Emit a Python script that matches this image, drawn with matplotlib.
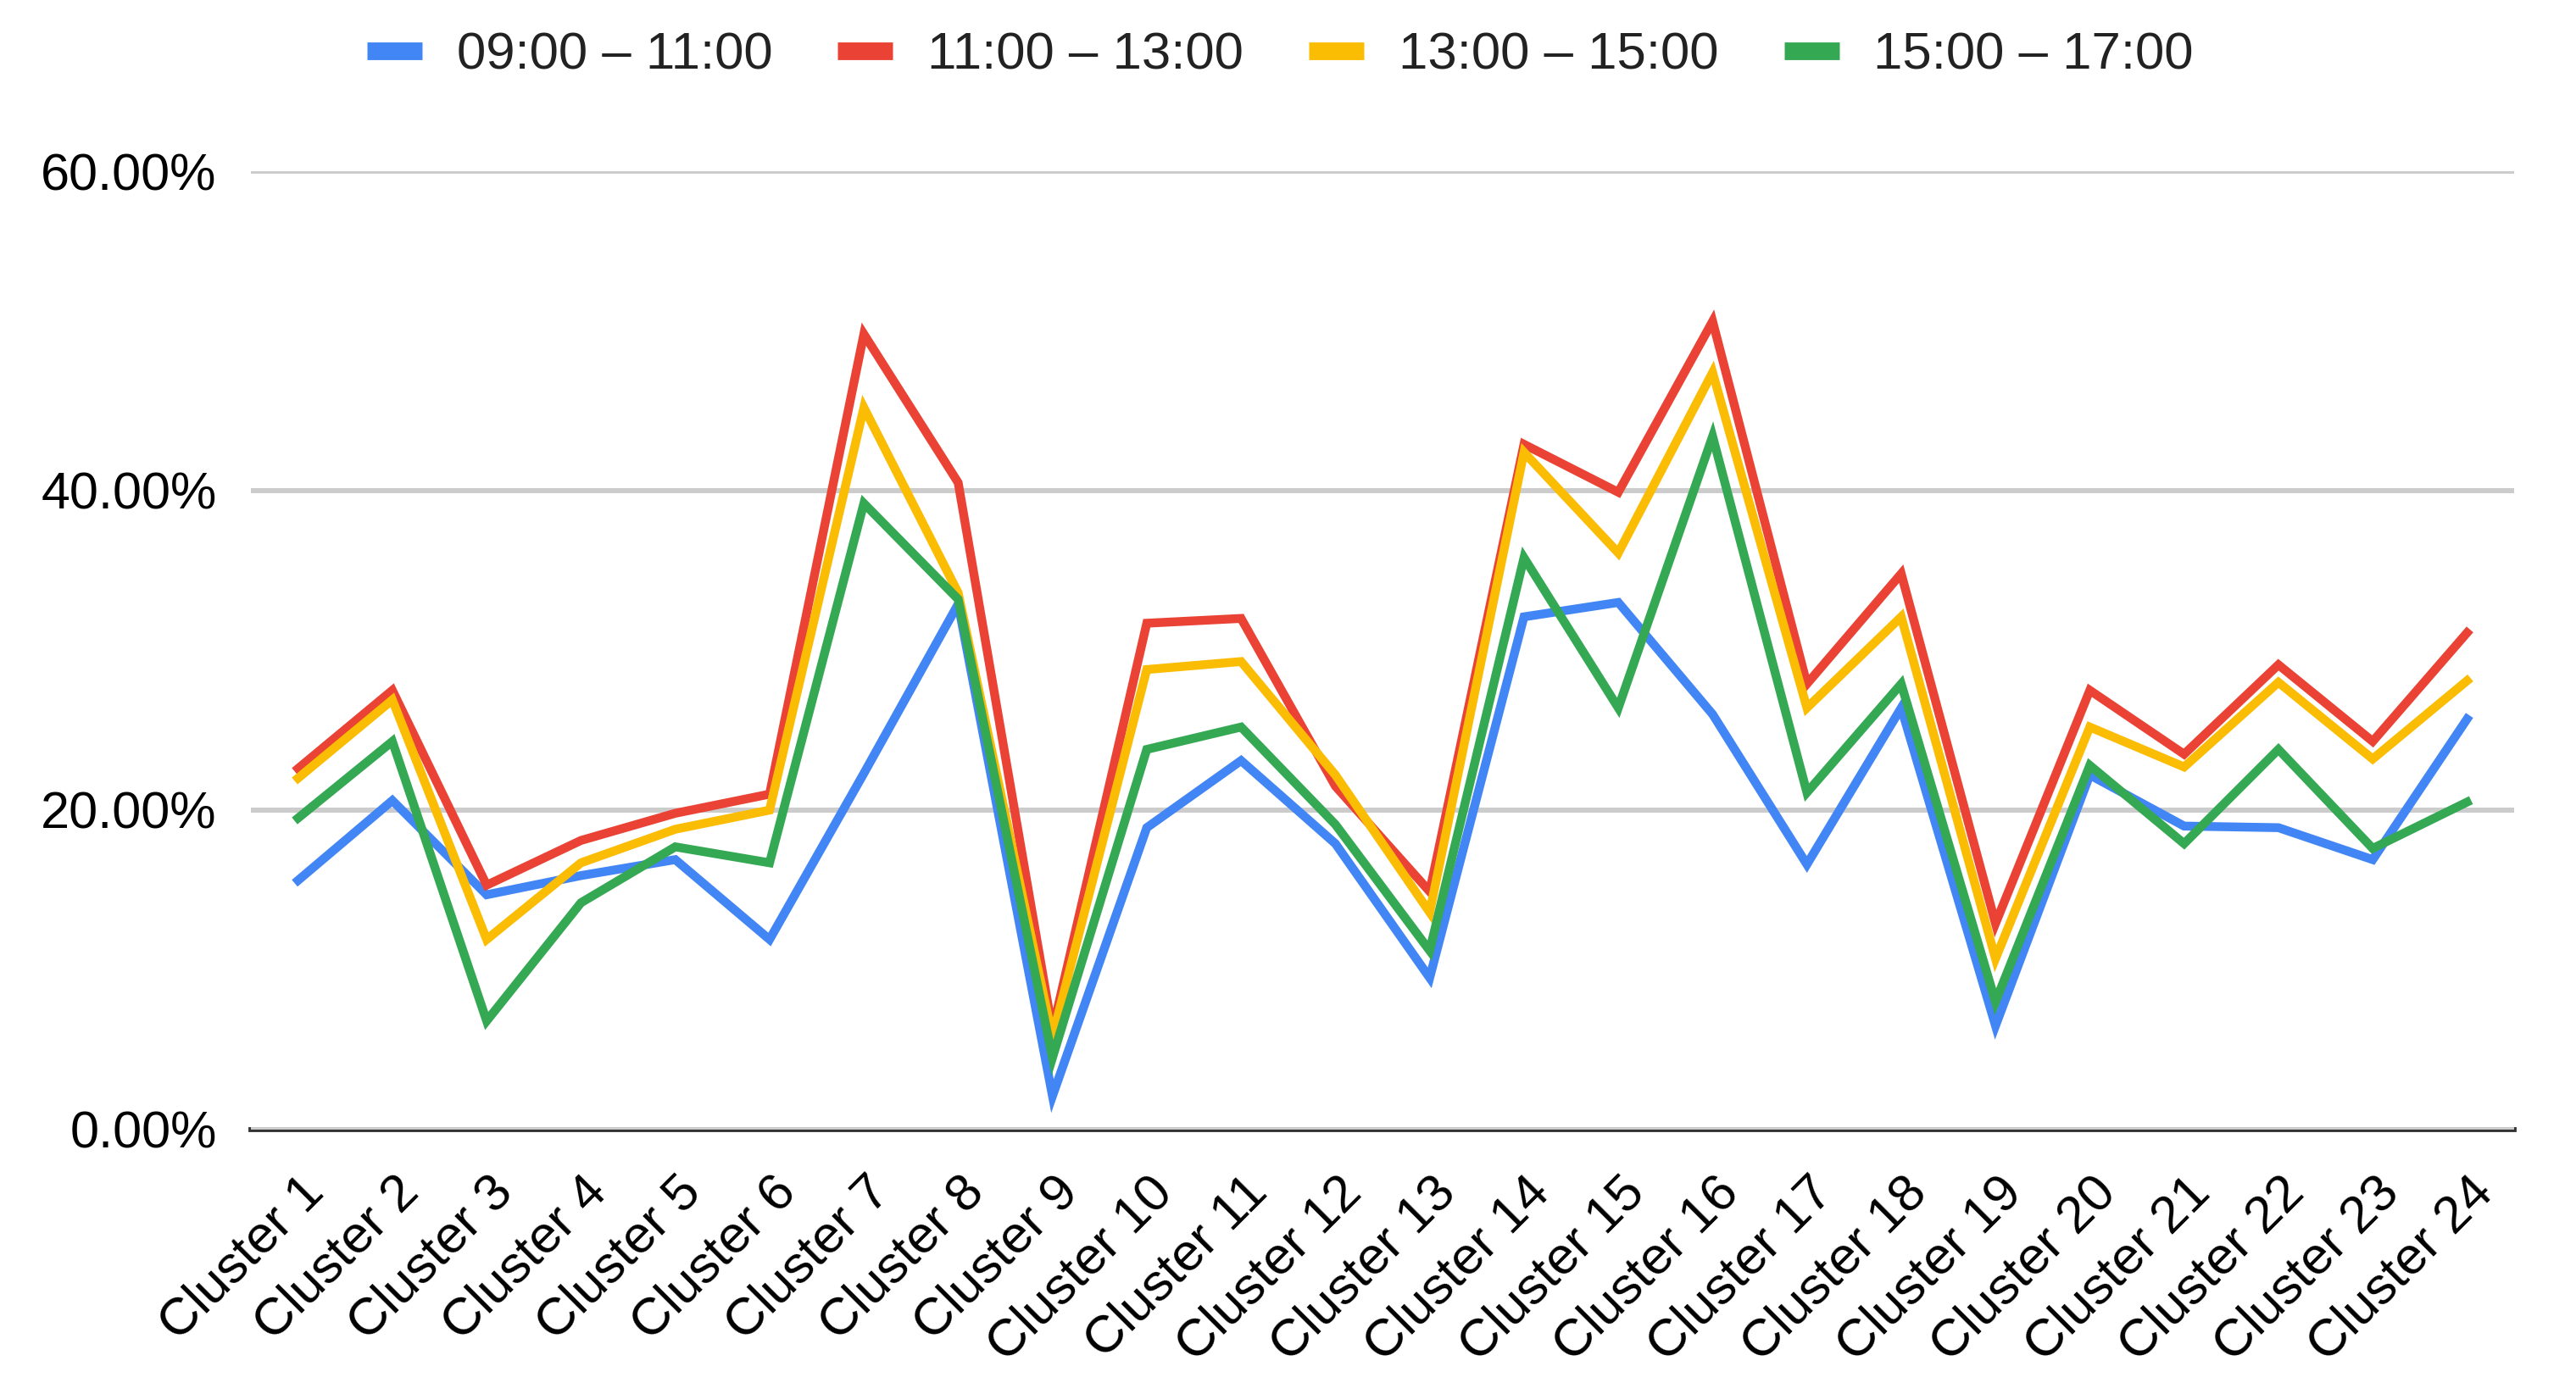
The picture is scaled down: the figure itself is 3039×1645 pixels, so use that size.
import matplotlib
matplotlib.use('Agg')
import matplotlib.pyplot as plt
import matplotlib.transforms as mtransforms
from matplotlib.ticker import FuncFormatter

plt.rcParams['font.family'] = ['Liberation Sans', 'DejaVu Sans']

# Share per cluster for each time slot (%)
clusters = ['Cluster %d' % i for i in range(1, 25)]
series_names = ['09:00 – 11:00', '11:00 – 13:00', '13:00 – 15:00', '15:00 – 17:00']
colors = ['#4285F4', '#EA4335', '#FBBC04', '#34A853']

slot_0911 = [15.6, 20.6, 14.7, 15.9, 16.9, 11.9, 22.3, 32.9, 2.1, 18.9, 23.1, 17.9,
             9.5, 32.1, 33.0, 26.0, 16.6, 26.4, 6.5, 22.2, 19.0, 18.9, 16.9, 25.7]
slot_1113 = [22.6, 27.5, 15.3, 18.1, 19.8, 21.0, 49.8, 40.5, 6.2, 31.7, 32.0, 21.5,
             14.9, 42.9, 39.9, 50.6, 27.9, 34.8, 12.9, 27.5, 23.5, 29.1, 24.3, 31.1]
slot_1315 = [22.0, 26.9, 11.9, 16.7, 18.8, 20.0, 45.2, 33.6, 5.8, 28.8, 29.3, 22.2,
             13.6, 42.4, 36.1, 47.4, 26.4, 32.1, 10.7, 25.2, 22.7, 28.0, 23.2, 28.1]
slot_1517 = [19.5, 24.3, 6.8, 14.2, 17.7, 16.7, 39.2, 33.2, 4.5, 23.8, 25.2, 19.1,
             11.2, 35.8, 26.4, 43.4, 21.1, 27.9, 8.0, 22.8, 17.9, 23.8, 17.6, 20.5]

y_ticks = [0, 20, 40, 60]

fig = plt.figure(figsize=(30.39, 16.45), dpi=100)
ax = fig.add_axes([0.0974, 0.1897, 0.976 - 0.0974, 0.8772 - 0.1897])

x = list(range(len(clusters)))
for name, vals, c in zip(series_names, [slot_0911, slot_1113, slot_1315, slot_1517], colors):
    ax.plot(x, vals, color=c, lw=7.5, label=name, solid_joinstyle='miter')

ax.set_xlim(-0.5, len(clusters) - 0.5)
ax.set_ylim(0, 60)
ax.set_yticks(y_ticks)
ax.yaxis.set_major_formatter(FuncFormatter(lambda v, p: '%.2f%%' % v))
ax.grid(axis='y', color='#cccccc', lw=4.3)
ax.set_axisbelow(True)
for s in ['top', 'right', 'left']:
    ax.spines[s].set_visible(False)
ax.spines['bottom'].set_color('#333333')
ax.spines['bottom'].set_linewidth(4.2)
ax.spines['bottom'].set_zorder(0.5)

ax.set_xticks(x)
ax.set_xticklabels(clusters, rotation=45, ha='right', va='center', rotation_mode='anchor')
ax.tick_params(axis='x', length=0, pad=50, labelsize=44.5, labelcolor='#000000')
ax.tick_params(axis='y', length=0, pad=29, labelsize=44, labelcolor='#000000')

# nudge the rotated labels to the right, as in the original
shift = mtransforms.ScaledTranslation(22 / 100, 4 / 100, fig.dpi_scale_trans)
for lab in ax.get_xticklabels():
    lab.set_transform(lab.get_transform() + shift)

fig.legend(loc='center', bbox_to_anchor=(0.497, 0.96), ncol=4, frameon=False,
           fontsize=44.5, handlelength=1.05, handletextpad=0.66, columnspacing=1.25,
           labelcolor='#222222')
for h in fig.legends[0].legend_handles:
    h.set_linewidth(15)
    h.set_solid_capstyle('butt')

fig.savefig('out.png', dpi=100, facecolor='white')
